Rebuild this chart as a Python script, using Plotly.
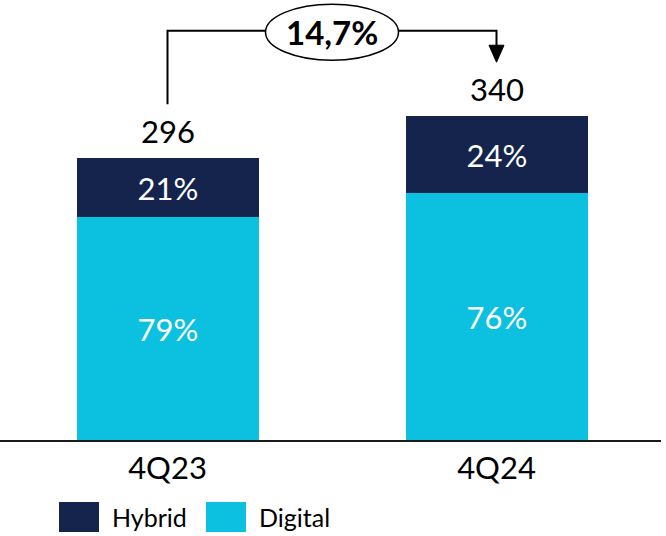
import plotly.graph_objects as go

# Customer base by channel, quarter-end
quarters = ["4Q23", "4Q24"]
totals = [296, 340]
digital_pct = [79, 76]
hybrid_pct = [21, 24]
growth_label = "14,7%"

series_names = ["Hybrid", "Digital"]
navy = "#14244c"
cyan = "#0cc0df"
font_family = "Lato, 'Open Sans', sans-serif"

W, H = 666, 536
base_px = 440          # pixel row of the zero line
px_per_unit = 0.954    # vertical scale
cat_px0, cat_step = 167.5, 329.0
plot_right = 661

digital_vals = [t * p / 100 for t, p in zip(totals, digital_pct)]
hybrid_vals = [t * p / 100 for t, p in zip(totals, hybrid_pct)]
xs = list(range(len(quarters)))
bar_w = 182 / cat_step

fig = go.Figure()
fig.add_trace(go.Bar(
    x=xs, y=digital_vals, width=bar_w, name=series_names[1],
    marker=dict(color=cyan, line=dict(width=0)),
    text=[f"{p}%" for p in digital_pct], textposition="inside",
    insidetextanchor="middle", textangle=0,
    textfont=dict(color="white", size=31, family=font_family),
    showlegend=False,
))
fig.add_trace(go.Bar(
    x=xs, y=hybrid_vals, width=bar_w, name=series_names[0],
    marker=dict(color=navy, line=dict(width=0)),
    text=[f"{p}%" for p in hybrid_pct], textposition="inside",
    insidetextanchor="middle", textangle=0,
    textfont=dict(color="white", size=31, family=font_family),
    showlegend=False,
))

# Total labels above each stack
for x, t in zip(xs, totals):
    fig.add_annotation(x=x, y=t, text=str(t), showarrow=False,
                       yanchor="bottom", yshift=6,
                       font=dict(size=31, color="black", family=font_family))

# Growth bracket from the first total to the second
u_per_px = 1 / px_per_unit
gap = 56
bracket_y = max(totals) + 89
line_style = dict(color="black", width=2)
fig.add_shape(type="path", xref="x", yref="y",
              path=(f"M {xs[0]},{totals[0] + gap} L {xs[0]},{bracket_y} "
                    f"L {xs[1]},{bracket_y} L {xs[1]},{totals[1] + gap + 16 * u_per_px}"),
              line=line_style)
tip = totals[1] + gap
half_w = 7.5 / cat_step
head = 17 * u_per_px
fig.add_shape(type="path", xref="x", yref="y",
              path=(f"M {xs[1] - half_w},{tip + head} L {xs[1] + half_w},{tip + head} "
                    f"L {xs[1]},{tip} Z"),
              fillcolor="black", line=dict(color="black", width=1))
mid = (xs[0] + xs[1]) / 2
ell_rx = 66.5 / cat_step
ell_ry = 28 * u_per_px
ell_cy = bracket_y - 1.5 * u_per_px
fig.add_shape(type="circle", xref="x", yref="y",
              x0=mid - ell_rx, x1=mid + ell_rx,
              y0=ell_cy - ell_ry, y1=ell_cy + ell_ry,
              fillcolor="white", line=dict(color="black", width=1.5))
fig.add_annotation(x=mid, y=ell_cy, text=f"<b>{growth_label}</b>", showarrow=False,
                   font=dict(size=33, color="black", family=font_family))

# Legend drawn as swatches with labels
legend_items = [(series_names[0], navy, 59), (series_names[1], cyan, 206)]
for name, color, left in legend_items:
    fig.add_shape(type="rect", xref="paper", yref="paper",
                  x0=left / W, x1=(left + 40) / W,
                  y0=1 - 532 / H, y1=1 - 502 / H,
                  fillcolor=color, line=dict(width=0))
    fig.add_annotation(xref="paper", yref="paper", x=(left + 51) / W, y=1 - 517 / H,
                       text=name, showarrow=False, xanchor="left", yanchor="middle",
                       font=dict(size=25, color="black", family=font_family))

x0 = -cat_px0 / cat_step
fig.update_layout(
    width=W, height=H, autosize=False,
    margin=dict(l=0, r=0, t=0, b=0),
    paper_bgcolor="white", plot_bgcolor="white",
    barmode="stack", bargap=0,
    xaxis=dict(domain=[0, plot_right / W],
               range=[x0, x0 + plot_right / cat_step],
               tickvals=xs, ticktext=quarters, ticks="",
               showline=True, linecolor="#1a1a1a", linewidth=2,
               showgrid=False, zeroline=False,
               tickfont=dict(size=31, color="black", family=font_family)),
    yaxis=dict(domain=[(H - base_px) / H, 1],
               range=[0, base_px / px_per_unit],
               visible=False),
)

fig.write_html("out.html")
